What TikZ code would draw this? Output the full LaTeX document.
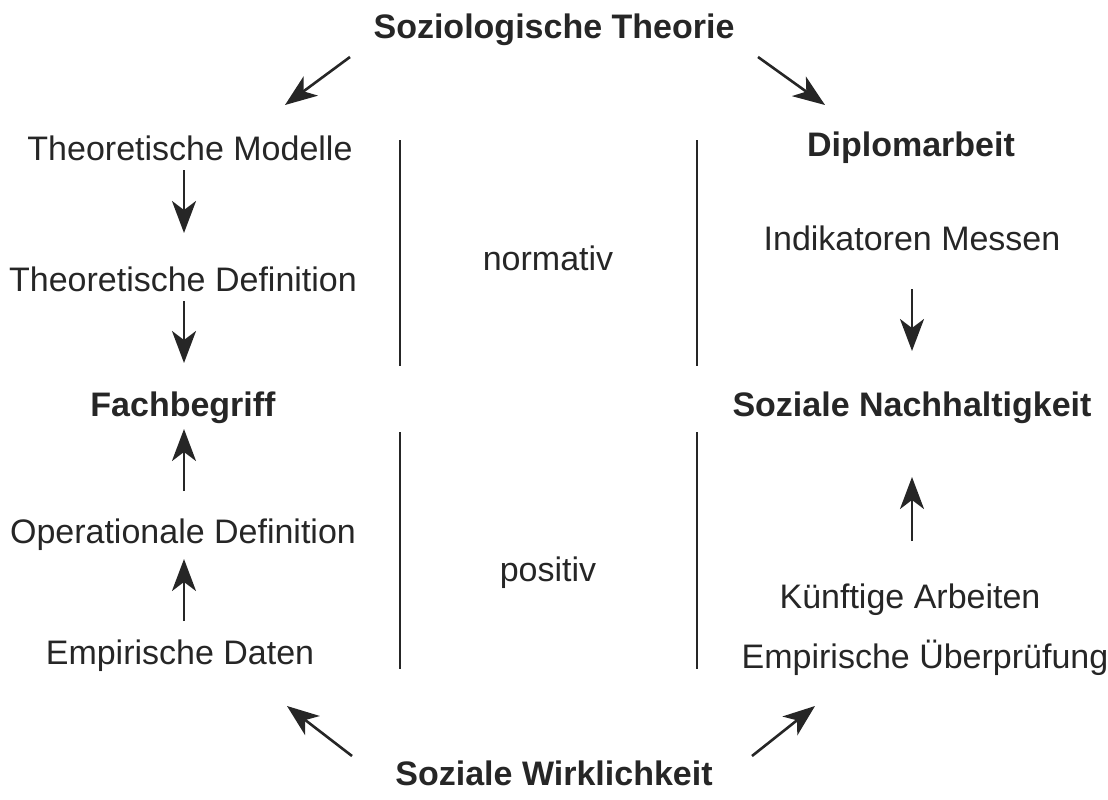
\documentclass[tikz,border=0pt]{standalone}
\usepackage{fontspec}
\setmainfont{Liberation Sans}
\usetikzlibrary{arrows.meta}
\begin{document}
\begin{tikzpicture}[x=1pt,y=-1pt,
  lbl/.style={font=\fontsize{34}{40}\selectfont, inner sep=0pt, text=black!85},
  blbl/.style={lbl, font=\fontsize{34}{40}\selectfont\bfseries},
  arr/.style={line width=2.6pt, draw=black!85, -{Stealth[length=32pt,width=24pt,inset=9pt]}},
  sep/.style={line width=2.6pt, draw=black!85}]
\useasboundingbox (0,0) rectangle (1108,800);
\node[blbl] (st) at (554,30) {Soziologische Theorie};
\node[lbl] (tm) at (190,148) {Theoretische Modelle};
\node[lbl] (td) at (183,279) {Theoretische Definition};
\node[blbl] (fb) at (183,408) {Fachbegriff};
\node[lbl] (od) at (183,535) {Operationale Definition};
\node[lbl] (ed) at (180,656) {Empirische Daten};
\node[blbl] (sw) at (554,773) {Soziale Wirklichkeit};
\node[blbl] (da) at (911,148) {Diplomarbeit};
\node[lbl] (im) at (912,238) {Indikatoren Messen};
\node[blbl] (sn) at (912,408) {Soziale Nachhaltigkeit};
\node[lbl] (ka) at (910,600) {Künftige Arbeiten};
\node[lbl] (eu) at (925,658) {Empirische Überprüfung};
\node[lbl] (no) at (548,258) {normativ};
\node[lbl] (po) at (548,573) {positiv};
\coordinate (a1s) at (350,57); \coordinate (a1e) at (285,105);
\coordinate (a2s) at (758,57); \coordinate (a2e) at (825,105);
\coordinate (a3s) at (352,756); \coordinate (a3e) at (287,706);
\coordinate (a4s) at (752,756); \coordinate (a4e) at (815,706);
\draw[arr] (a1s) -- (a1e);
\draw[arr] (a2s) -- (a2e);
\draw[arr] (a3s) -- (a3e);
\draw[arr] (a4s) -- (a4e);
\draw[arr] (184,170) -- (184,233);
\draw[arr] (184,301) -- (184,363);
\draw[arr] (184,491) -- (184,429);
\draw[arr] (184,621) -- (184,559);
\draw[arr] (912,289) -- (912,351);
\draw[arr] (912,541) -- (912,477);
\draw[sep] (400,140) -- (400,366);
\draw[sep] (697,140) -- (697,366);
\draw[sep] (400,432) -- (400,669);
\draw[sep] (697,432) -- (697,669);
\end{tikzpicture}
\end{document}
